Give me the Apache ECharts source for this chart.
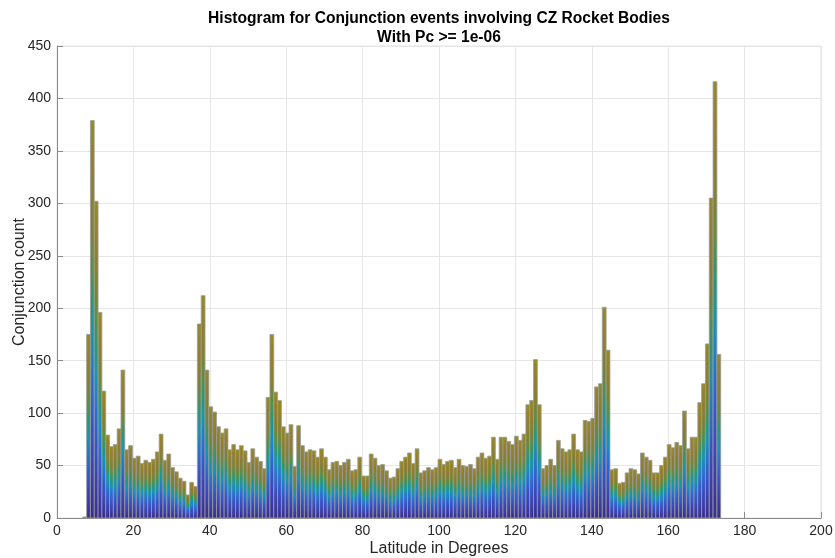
<!DOCTYPE html>
<html>
<head>
<meta charset="utf-8">
<script src="https://cdn.jsdelivr.net/npm/echarts@6/dist/echarts.min.js"></script>
<style>html,body{margin:0;padding:0;background:#fff}#c{width:835px;height:558px}</style>
</head>
<body>
<div id="c"></div>
<script>
// ---- data ----
const titleText = 'Histogram for Conjunction events involving CZ Rocket Bodies';
const subtitleText = 'With Pc >= 1e-06';
const xAxisName = 'Latitude in Degrees';
const yAxisName = 'Conjunction count';
const xTicks = [0, 20, 40, 60, 80, 100, 120, 140, 160, 180, 200];
const yTicks = [0, 50, 100, 150, 200, 250, 300, 350, 400, 450];
const binStart = 6.75;   // left edge of first bin (degrees)
const binWidth = 1;      // bin width (degrees)
const counts = [
  1,
  175, 379, 302, 196, 121, 79, 68, 70, 85, 141,
  65, 69, 57, 59, 52, 55, 53, 56, 63, 80,
  55, 61, 48, 44, 38, 35, 22, 34, 30, 185,
  212, 141, 106, 101, 87, 81, 85, 65, 70, 65,
  69, 64, 53, 66, 58, 54, 47, 115, 175, 120,
  112, 87, 81, 89, 49, 88, 69, 63, 65, 64,
  58, 66, 58, 46, 53, 54, 50, 53, 56, 45,
  46, 58, 40, 40, 61, 57, 50, 51, 45, 38,
  39, 47, 54, 58, 62, 52, 66, 43, 45, 48,
  46, 48, 56, 51, 54, 55, 48, 56, 50, 49,
  51, 47, 58, 62, 57, 59, 77, 56, 77, 77,
  73, 70, 78, 74, 80, 108, 112, 151, 108, 47,
  50, 56, 50, 74, 66, 63, 65, 80, 65, 63,
  93, 92, 95, 125, 128, 201, 160, 46, 47, 33,
  34, 43, 47, 46, 42, 62, 58, 55, 43, 43,
  50, 58, 70, 67, 72, 69, 102, 66, 77, 77,
  110, 128, 166, 305, 416, 156
];

// ---- build bins [x0, x1, count] ----
const bins = counts.map((c, i) => [binStart + i * binWidth, binStart + (i + 1) * binWidth, c]);

const FONT = '"Liberation Sans", Helvetica, Arial, sans-serif';
const gradStops = [
  { offset: 0.00, color: '#958b24' },
  { offset: 0.14, color: '#937e2e' },
  { offset: 0.28, color: '#818133' },
  { offset: 0.37, color: '#5a8f47' },
  { offset: 0.46, color: '#27987a' },
  { offset: 0.55, color: '#1595b4' },
  { offset: 0.64, color: '#2478cf' },
  { offset: 0.75, color: '#3458cf' },
  { offset: 0.88, color: '#3c40b0' },
  { offset: 1.00, color: '#382d8c' }
];

const chart = echarts.init(document.getElementById('c'), null, { renderer: 'canvas' });
chart.setOption({
  animation: false,
  backgroundColor: '#ffffff',
  title: {
    text: titleText + '\n' + subtitleText,
    left: 434, top: 4, textAlign: 'center',
    textStyle: { fontFamily: FONT, fontSize: 15.6, fontWeight: 'bold', color: '#000', lineHeight: 19 }
  },
  grid: { left: 57, right: 14, top: 46, bottom: 40, containLabel: false, outerBoundsMode: 'none', show: true, borderColor: '#e3e3e3', borderWidth: 1 },
  xAxis: {
    type: 'value', min: xTicks[0], max: xTicks[xTicks.length - 1], interval: 20,
    name: xAxisName, nameLocation: 'middle', nameGap: 23, nameMoveOverlap: false,
    nameTextStyle: { fontFamily: FONT, fontSize: 16, color: '#262626' },
    axisLine: { show: true, onZero: false, lineStyle: { color: '#8a8a8a', width: 1 } },
    axisTick: { show: true, inside: true, length: 6, lineStyle: { color: '#8a8a8a' } },
    axisLabel: { fontFamily: FONT, fontSize: 14, color: '#262626', margin: 6 },
    splitLine: { show: true, lineStyle: { color: '#e6e6e6', width: 1 } }
  },
  yAxis: {
    type: 'value', min: yTicks[0], max: yTicks[yTicks.length - 1], interval: 50,
    name: yAxisName, nameLocation: 'middle', nameGap: 29, nameMoveOverlap: false,
    nameTextStyle: { fontFamily: FONT, fontSize: 16, color: '#262626' },
    axisLine: { show: true, lineStyle: { color: '#8a8a8a', width: 1 } },
    axisTick: { show: true, inside: true, length: 6, lineStyle: { color: '#8a8a8a' } },
    axisLabel: { fontFamily: FONT, fontSize: 14, color: '#262626', margin: 6 },
    splitLine: { show: true, lineStyle: { color: '#e6e6e6', width: 1 } }
  },
  series: [{
    type: 'custom',
    data: bins,
    encode: { x: [0, 1], y: 2 },
    renderItem: function (params, api) {
      const x0 = api.value(0), x1 = api.value(1), v = api.value(2);
      const pTop = api.coord([x0, v]);
      const pBot = api.coord([x1, 0]);
      return {
        type: 'rect',
        shape: { x: pTop[0], y: pTop[1], width: pBot[0] - pTop[0], height: pBot[1] - pTop[1] },
        style: {
          fill: new echarts.graphic.LinearGradient(0, 0, 0, 1, gradStops.map(s => ({ offset: s.offset, color: s.color }))),
          stroke: '#9c9c9c', lineWidth: 0.8
        }
      };
    }
  }]
});
</script>
</body>
</html>
